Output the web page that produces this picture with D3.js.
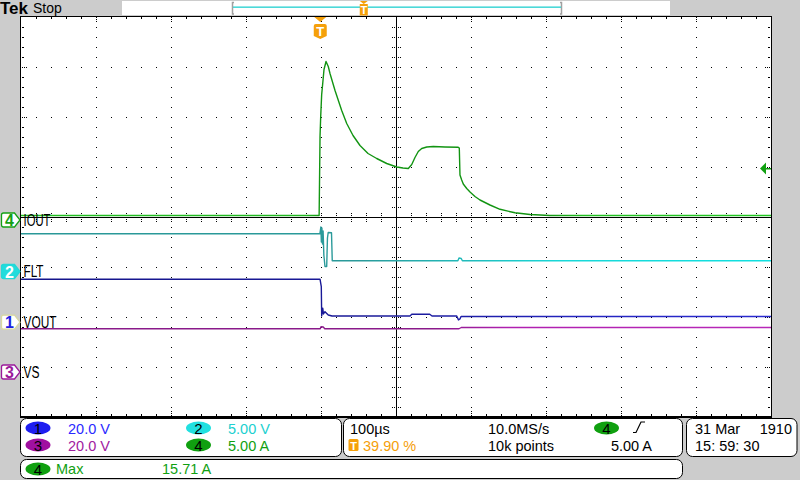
<!DOCTYPE html>
<html><head><meta charset="utf-8">
<script src="https://cdn.jsdelivr.net/npm/d3@7"></script>
<style>
body{margin:0;background:#cccccc;}
svg{display:block;}
text{font-family:"Liberation Sans",Arial,sans-serif;}
</style>
</head><body>
<svg id="c" width="800" height="480"></svg>
<script>
// ---------- DATA ----------
// horizontal: 100 µs/div, 10 div, trigger at 39.90 % of record (time in µs relative to trigger)
const timeDomain = [-399, 601];
// Ch4 IOUT (A)
const ioutT = [-399, -1.5, -1.0, -0.3, 0.6, 1.9, 3.3, 5.0, 7.7, 10.7, 13, 19.7, 28.6, 35.3, 43.7, 53, 63.7, 75.3, 88.6, 102, 110.3, 117.4, 122, 126.3, 130.7, 135.3, 142, 150.7, 166.3, 184, 185.4, 186.3, 188.6, 190.7, 195.3, 199.7, 206.3, 213, 226.3, 239.7, 259.7, 279.7, 306.3, 601];
const ioutA = [0.3, 0.3, 3.5, 8.2, 10.2, 12.4, 13.5, 14.9, 15.7, 15.2, 14.5, 12.8, 10.8, 9.5, 8.3, 7.3, 6.5, 6.0, 5.5, 5.15, 5.05, 5.0, 5.4, 6.1, 6.7, 7.0, 7.15, 7.2, 7.15, 7.12, 7.05, 4.35, 3.85, 3.45, 3.0, 2.65, 2.2, 1.85, 1.35, 0.92, 0.57, 0.4, 0.3, 0.3];
// Ch2 FLT (V)
const fltT = [-399, -0.5, 0.8, 1.5, 2.2, 3.0, 3.8, 4.8, 6.3, 8.6, 9.6, 10.6, 15.0, 16.0, 183.5, 185, 188, 189.5, 601];
const fltV = [3.62, 3.62, 4.3, 2.8, 4.2, 2.6, 3.9, 1.5, 0.35, 0.35, 3.2, 3.75, 3.72, 0.93, 0.93, 1.2, 1.15, 0.93, 0.93];
// Ch1 VOUT (V)
const voutT = [-399, -0.3, 1.4, 1.9, 3.3, 4.3, 6.3, 10.7, 15.7, 119.7, 122, 146, 149, 182, 184.3, 186.3, 187.7, 601];
const voutV = [16.6, 16.6, 13.6, 1.9, 5.0, 2.7, 3.6, 2.3, 1.9, 1.9, 2.6, 2.6, 1.9, 1.9, 0.3, 0.7, 1.7, 1.7];
// Ch3 VS (V)
const vsT = [-399, 0, 1, 4, 6, 185, 188, 601];
const vsV = [16.7, 16.7, 17.5, 17.4, 16.7, 16.7, 17.2, 17.2];

const channelIds = ["4", "2", "1", "3"];
const channelLabels = ["IOUT", "FLT", "VOUT", "VS"];
const channelScales = [5, 5, 20, 20];          // units / div
const channelScaleText = ["5.00 A", "5.00 V", "20.0 V", "20.0 V"];
const triggerLevelA = 5.0;
const maxText = "15.71 A";

// ---------- LAYOUT / STYLE ----------
const chPos = {"4": -0.03, "2": -1.06, "1": -2.074, "3": -3.07}; // div offsets
const chColor = {"4": "#14a014", "2": "#22c8c8", "1": "#1818a0", "3": "#9a1a9a"};
const badgeColor = {"1": "#1e1ef0", "2": "#22e0e0", "3": "#a010a0", "4": "#10a010"};
const textColor = {"1": "#2a2aff", "2": "#20d0d0", "3": "#a020a0", "4": "#10a010"};
const orange = "#f5a00a";

const svg = d3.select("#c");
const L = 21, R = 771, T = 17, B = 417;
const x = d3.scaleLinear().domain(timeDomain).range([L, R]);
const yDiv = d3.scaleLinear().domain([-4, 4]).range([B, T]);

// background
svg.append("rect").attr("width", 800).attr("height", 480).attr("fill", "#cccccc");
svg.append("rect").attr("x", L).attr("y", 16).attr("width", R - L).attr("height", 402).attr("fill", "#fff");

// gradients for trace intensity
const defs = svg.append("defs");
function grad(id, stops) {
  const g = defs.append("linearGradient").attr("id", id).attr("gradientUnits", "userSpaceOnUse")
    .attr("x1", L).attr("x2", R).attr("y1", 0).attr("y2", 0);
  stops.forEach(s => g.append("stop").attr("offset", s[0]).attr("stop-color", s[1]));
}
grad("g2", [[0, "#2a9898"], [0.45, "#2a9a9a"], [0.72, "#18d8d8"], [1, "#10e0e0"]]);
grad("g1", [[0, "#14148a"], [0.5, "#1a1a9a"], [0.75, "#2424c0"], [1, "#2a2ad0"]]);
grad("g3", [[0, "#8a1a8a"], [0.55, "#8a1a8a"], [0.65, "#b020b0"], [1, "#b828b8"]]);
grad("g4", [[0, "#22c022"], [0.38, "#22b822"], [0.4, "#129412"], [0.7, "#129412"], [0.75, "#22c022"], [1, "#22c822"]]);
defs.append("clipPath").attr("id", "clip").append("rect").attr("x", L).attr("y", 16).attr("width", R - L).attr("height", 401);

// ---------- GRATICULE ----------
const grid = svg.append("g").attr("fill", "#000");
function dot(px, py) { grid.append("rect").attr("x", Math.round(px)).attr("y", Math.round(py)).attr("width", 1).attr("height", 1); }
const cx = Math.round(x.invert ? (L + R) / 2 : 396), cy = Math.round(yDiv(0));
for (let i = 1; i < 10; i++) {
  if (i === 5) continue;
  const px = L + 75 * i;
  for (let k = 1; k < 40; k++) dot(px, T + 10 * k);
}
for (let j = 1; j < 8; j++) {
  if (j === 4) continue;
  const py = T + 50 * j;
  for (let k = 1; k < 50; k++) dot(L + 15 * k, py);
}
// edge ticks
for (let k = 1; k < 50; k++) {
  const px = L + 15 * k;
  if (k % 5 === 0) { [0, 2, 4].forEach(d => { dot(px, 17 + d); dot(px, 415 - d); }); }
  else { dot(px, 17); dot(px, 18); dot(px, 414); dot(px, 415); }
}
for (let k = 1; k < 40; k++) {
  const py = T + 10 * k;
  if (k % 5 === 0) { [0, 2, 4].forEach(d => { dot(22 + d, py); dot(769 - d, py); }); }
  else { dot(22, py); dot(23, py); dot(768, py); dot(769, py); }
}
// centre lines
grid.append("rect").attr("x", 396).attr("y", 16).attr("width", 1).attr("height", 402);
grid.append("rect").attr("x", L).attr("y", cy).attr("width", R - L).attr("height", 1);
for (let k = 1; k < 40; k++) { const py = T + 10 * k; [-4, -2, 2, 4].forEach(o => dot(396 + o, py)); }
for (let k = 1; k < 50; k++) { const px = L + 15 * k; [-4, -2, 2, 4].forEach(o => dot(px, cy + o)); }
// frame
grid.append("rect").attr("x", L - 1).attr("y", 16).attr("width", 1).attr("height", 402);
grid.append("rect").attr("x", R).attr("y", 16).attr("width", 1).attr("height", 402);
grid.append("rect").attr("x", L - 1).attr("y", 16).attr("width", R - L + 2).attr("height", 1);
grid.append("rect").attr("x", L - 1).attr("y", 416).attr("width", R - L + 2).attr("height", 2);

// ---------- TRACES ----------
function chY(id, scale) { return v => yDiv(chPos[id] + v / scale); }
const traces = svg.append("g").attr("clip-path", "url(#clip)");
function trace(id, ts, vs, scale, stroke) {
  const yy = chY(id, scale);
  const line = d3.line().x(d => x(d[0])).y(d => yy(d[1]));
  traces.append("path").datum(ts.map((t, i) => [t, vs[i]]))
    .attr("d", line).attr("fill", "none").attr("stroke", stroke).attr("stroke-width", 1.4)
    .attr("stroke-linejoin", "round");
}
trace("3", vsT, vsV, channelScales[3], "url(#g3)");
trace("1", voutT, voutV, channelScales[2], "url(#g1)");
trace("2", fltT, fltV, channelScales[1], "url(#g2)");
trace("4", ioutT, ioutA, channelScales[0], "url(#g4)");

// trigger level indicator (right)
const ty = chY("4", channelScales[0])(triggerLevelA);
svg.append("path").attr("d", `M760,${ty} L766,${ty - 6} L766,${ty + 6} Z`).attr("fill", "#10a010");
svg.append("rect").attr("x", 766).attr("y", ty - 0.5).attr("width", 5).attr("height", 1.5).attr("fill", "#10a010");

// trigger position marker (top)
const tx = x(0);
svg.append("path").attr("d", `M${tx - 6},17 L${tx + 6},17 L${tx},22 Z`).attr("fill", orange);
svg.append("path").attr("d", `M${tx - 6.5},26 Q${tx - 6.5},24 ${tx - 4.5},24 L${tx + 4.5},24 Q${tx + 6.5},24 ${tx + 6.5},26 L${tx + 6.5},36 L${tx},39 L${tx - 6.5},36 Z`).attr("fill", orange);
svg.append("text").attr("x", tx).attr("y", 36).attr("text-anchor", "middle").attr("font-size", 13).attr("font-weight", "bold").attr("fill", "#fff").text("T");

// ---------- CHANNEL MARKERS (left) ----------
channelIds.forEach((id, i) => {
  const yy = yDiv(chPos[id]) + 1.5;
  const filled = id === "2";
  const border = id === "1" ? "#d8d8a0" : (id === "2" ? "#22d8d8" : chColor[id]);
  svg.append("path").attr("d", `M3.5,${yy - 7} L14.5,${yy - 7} L20,${yy} L14.5,${yy + 7} L3.5,${yy + 7} Q1.5,${yy + 7} 1.5,${yy + 5} L1.5,${yy - 5} Q1.5,${yy - 7} 3.5,${yy - 7} Z`)
    .attr("fill", filled ? "#22dcdc" : "#fff").attr("stroke", border).attr("stroke-width", 1.3);
  svg.append("text").attr("x", 9.5).attr("y", yy + 6).attr("text-anchor", "middle").attr("font-size", 16).attr("font-weight", "bold")
    .attr("fill", filled ? "#fff" : (id === "1" ? "#2020e0" : chColor[id])).text(id);
  const lw = {"IOUT": 27, "FLT": 20, "VOUT": 33, "VS": 16}[channelLabels[i]];
  svg.append("text").attr("x", 23.5).attr("y", yy + 5.5).attr("font-size", 16).attr("fill", "#000")
    .attr("textLength", lw).attr("lengthAdjust", "spacingAndGlyphs").text(channelLabels[i]);
});

// ---------- TOP BAR ----------
svg.append("text").attr("x", 0).attr("y", 14).attr("font-family", "Liberation Serif, serif").attr("font-weight", "bold").attr("font-size", 17).attr("fill", "#000").text("Tek");
svg.append("text").attr("x", 33).attr("y", 13).attr("font-size", 14).attr("fill", "#000").text("Stop");
svg.append("rect").attr("x", 122).attr("y", 1).attr("width", 548).attr("height", 14).attr("fill", "#fff");
svg.append("path").attr("d", "M234,2.5 H232.5 V14 H234").attr("fill", "none").attr("stroke", "#a0a0a0").attr("stroke-width", 1.5);
svg.append("path").attr("d", "M560,2.5 H561.5 V14 H560").attr("fill", "none").attr("stroke", "#a0a0a0").attr("stroke-width", 1.5);
svg.append("rect").attr("x", 233).attr("y", 6.5).attr("width", 328).attr("height", 1.3).attr("fill", "#22d0d0");
const rx0 = 232.5 + (561.5 - 232.5) * 0.399;
svg.append("path").attr("d", `M${rx0 - 4},1 L${rx0 + 4},1 L${rx0},4 Z`).attr("fill", orange);
svg.append("rect").attr("x", rx0 - 4).attr("y", 4).attr("width", 8).attr("height", 11.5).attr("fill", orange);
svg.append("text").attr("x", rx0).attr("y", 14).attr("text-anchor", "middle").attr("font-size", 11).attr("font-weight", "bold").attr("fill", "#fff").text("T");

// ---------- BOTTOM PANELS ----------
const panels = svg.append("g").attr("fill", "#fff").attr("stroke", "#000").attr("stroke-width", 1);
[[20.5, 418.5, 321, 38], [343.5, 418.5, 339, 38], [686.5, 418.5, 110.5, 38], [20.5, 459.5, 662, 19]].forEach(b =>
  panels.append("rect").attr("x", b[0]).attr("y", b[1]).attr("width", b[2]).attr("height", b[3]).attr("rx", 6));

const fs = 14.5;
function badge(cxp, cyp, id) {
  svg.append("ellipse").attr("cx", cxp).attr("cy", cyp).attr("rx", 12.5).attr("ry", 6.5).attr("fill", badgeColor[id]);
  svg.append("text").attr("x", cxp).attr("y", cyp + 5.5).attr("text-anchor", "middle").attr("font-size", 15).attr("fill", "#000").text(id);
}
function txt(xp, yp, s, col, anchor) {
  svg.append("text").attr("x", xp).attr("y", yp).attr("font-size", fs).attr("fill", col).attr("text-anchor", anchor || "start").text(s);
}
const r1 = 433.5, r2 = 451;
badge(38, 428, "1"); txt(68, r1, channelScaleText[2], textColor["1"]);
badge(38, 445, "3"); txt(68, r2, channelScaleText[3], textColor["3"]);
badge(198.5, 428, "2"); txt(228, r1, channelScaleText[1], textColor["2"]);
badge(198.5, 445, "4"); txt(228, r2, channelScaleText[0], textColor["4"]);

txt(350, r1, "100µs", "#000");
svg.append("rect").attr("x", 348.5).attr("y", 439).attr("width", 10).attr("height", 12).attr("rx", 1.5).attr("fill", orange);
svg.append("text").attr("x", 353.5).attr("y", 449.5).attr("text-anchor", "middle").attr("font-size", 11).attr("font-weight", "bold").attr("fill", "#fff").text("T");
txt(363, r2, "39.90 %", orange);
txt(488, r1, "10.0MS/s", "#000");
txt(488, r2, "10k points", "#000");
badge(606.5, 428, "4");
svg.append("path").attr("d", "M633,432.5 H636 L641,422 H645").attr("fill", "none").attr("stroke", "#000").attr("stroke-width", 1.2);
txt(652, r2, triggerLevelA.toFixed(2) + " A", "#000", "end");

txt(695, r1, "31 Mar", "#000");
txt(792, r1, "1910", "#000", "end");
txt(695, r2, "15: 59: 30", "#000");

badge(38, 469, "4");
txt(56, 474, "Max", textColor["4"]);
txt(162, 474, maxText, textColor["4"]);
</script>
</body></html>
